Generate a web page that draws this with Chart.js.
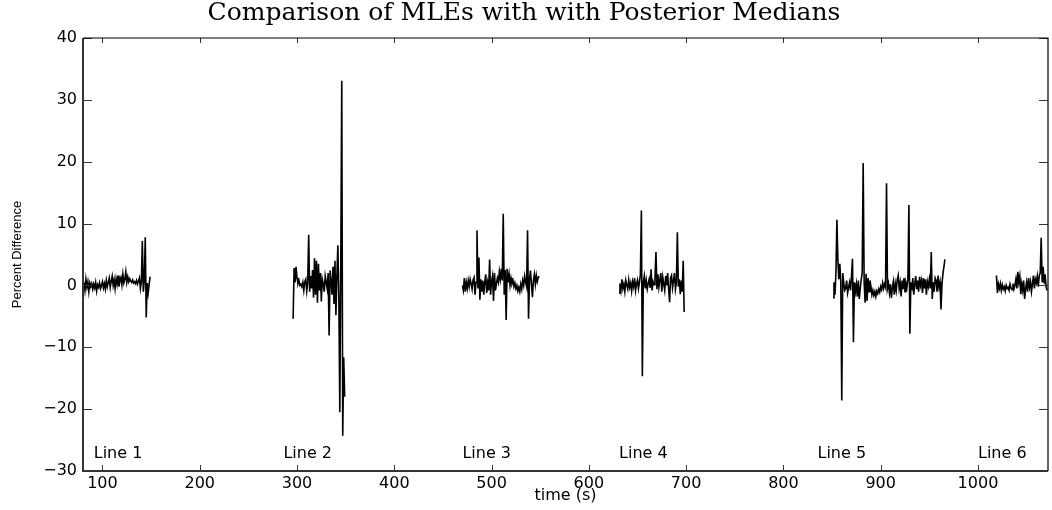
<!DOCTYPE html>
<html>
<head>
<meta charset="utf-8">
<script src="https://cdn.jsdelivr.net/npm/chart.js@4"></script>
<style>
	body { margin: 0; background: #fff; }
	#wrap { width: 1052px; height: 510px; }
</style>
</head>
<body>
<div id="wrap"><canvas id="myChart"></canvas></div>
<script>
// one sample per second, each run starts at its own time (s)
const lineNames = ['Line 1', 'Line 2', 'Line 3', 'Line 4', 'Line 5', 'Line 6'];
const lineStarts = [81, 296, 470, 631, 851, 1019];
const lineLabelTimes = [116, 311, 495, 656, 860, 1025];

const line1Values = [
	0.5, -0.8, 1.0, -0.3, 0.6, -1.0, 0.4, -0.2, 0.3, -0.6,
	0.2, -0.4, 0.5, -0.9, 0.1, -0.3, 0.4, -0.5, 0.0, 0.6,
	-0.4, 0.3, -0.6, 0.8, -0.2, 0.5, 1.2, -0.3, 0.7, 1.5,
	0.0, 0.9, -0.5, 1.1, 0.2, 1.6, -0.2, 0.8, 1.3, 0.1,
	1.8, 0.4, 1.0, 2.2, 0.5, 1.4, 0.6, 1.1, 0.7, 0.5,
	0.9, 0.4, 0.6, 0.3, 0.8, 0.2, 0.7, 1.2, -0.5, 0.6,
	7.2, -1.0, 0.8, 7.8, -5.2, 0.4, -1.2, 0.2, 1.4
];
const line2Values = [
	-5.4, 2.8, 0.5, 3.0, 1.2, 0.3, 0.8, 0.0, 0.2, -0.2,
	0.5, -0.8, 0.6, 1.0, -0.9, 0.4, 8.2, -1.0, 1.5, -0.5,
	2.5, -2.0, 4.4, -1.5, 4.0, -2.8, 3.5, -0.8, 2.0, -2.6,
	1.0, 0.2, -1.0, 1.5, 0.5, -0.5, 2.0, -8.1, 2.4, 0.8,
	-1.5, 3.0, -3.0, 4.0, -4.8, 1.5, 6.5, -2.0, -20.5, 3.5,
	33.1, -24.3, -11.6, -18.0
];
const line3Values = [
	0.0, -0.8, 1.2, -1.0, 0.5, -0.5, 0.8, -0.2, 1.0, 0.3,
	-0.6, 0.9, 1.3, -1.5, 0.5, 8.9, -0.5, 4.5, -2.3, 1.0,
	-1.0, 0.8, -1.5, 0.5, 1.8, -1.2, 0.4, -0.8, 4.2, -1.5,
	0.6, 1.5, -2.5, 2.0, -0.8, 0.3, 1.2, 0.5, 2.2, 1.0,
	2.7, 0.8, 11.6, -1.5, 2.5, -5.6, 2.7, 0.5, 1.8, 0.0,
	1.2, 0.3, 0.8, -0.2, 0.4, -0.5, 0.0, -0.9, -0.3, -1.0,
	0.2, -0.6, 0.8, 0.0, 1.5, 0.5, -0.2, 8.9, -5.4, 1.0,
	2.4, 0.2, -1.9, 0.8, 1.8, 0.2, 1.6, 0.6, 1.3, 1.5
];
const line4Values = [
	-1.2, 0.3, -0.8, 1.0, -0.5, 0.2, -1.0, 0.8, 0.0, -0.6,
	0.9, -0.3, 0.4, -0.9, 0.6, -0.2, 1.2, -0.8, 0.3, 0.9,
	-0.5, 0.5, 1.8, 12.1, -14.7, 0.5, 1.5, -0.5, 0.8, -0.6,
	0.3, 1.0, -0.4, 2.6, -0.8, 0.6, 0.1, 1.2, 5.4, -0.6,
	1.8, -0.3, 0.9, 2.0, -1.0, 1.3, 0.2, -0.8, 1.5, 0.0,
	2.0, -0.5, -2.7, 1.2, 1.6, -0.4, 0.8, 2.0, -0.6, 0.5,
	8.6, -0.2, 1.0, -1.4, 0.8, -1.0, 4.0, -4.3
];
const line5Values = [
	-2.0, 0.5, -1.5, 2.0, 10.6, 4.0, 1.0, 3.5, 0.5, -18.6,
	2.0, 0.5, -0.8, -0.5, 0.8, -1.2, -0.3, 0.5, -0.8, 1.5,
	4.3, -9.2, 0.5, -1.0, 0.2, -1.8, 0.8, -2.2, -0.5, 1.0,
	2.0, 19.8, 0.5, -2.8, 1.9, -2.5, 1.2, -1.0, 0.8, -0.2,
	-1.5, -0.8, -1.6, -1.0, -1.8, -0.9, -1.3, -0.6, -1.1, -0.2,
	-0.7, 0.4, -0.5, 0.2, -0.3, 16.5, -0.5, 0.3, -1.2, 0.2,
	-2.0, -0.4, 0.6, -1.5, 0.3, -0.8, 0.9, 1.6, -0.5, 0.5,
	-1.8, 0.8, -0.6, 1.2, -1.0, 0.4, -0.3, 1.0, 13.0, -7.8,
	0.5, -0.8, 1.2, -1.5, 0.2, 1.5, -0.6, 0.8, -1.0, 1.4,
	0.0, 0.8, -1.2, 1.2, -0.5, 1.0, -1.5, 0.6, -0.2, 1.0,
	-0.5, 5.4, -2.2, 0.5, -1.0, 1.2, 0.8, -1.0, 1.6, -0.3,
	0.5, -3.9, 0.2, 1.9, 3.0, 4.2
];
const line6Values = [
	1.6, -1.2, 0.2, -0.5, 0.3, -0.8, 0.1, -0.6, -0.2, -0.9,
	0.0, -0.5, -0.3, -0.8, 0.2, -0.4, -0.7, 0.3, -0.6, 0.0,
	1.0, -0.5, 2.2, 0.5, 1.5, -1.4, 0.3, -0.8, 0.8, -2.2,
	-0.5, 0.5, -1.0, 1.2, -0.3, 0.6, -1.0, 0.2, 1.6, -0.5,
	1.0, 0.4, 1.5, -0.2, 1.6, 2.0, 7.7, 0.5, 3.0, 0.3,
	1.8, -0.2, -0.8
];

const xTickValues = [100, 200, 300, 400, 500, 600, 700, 800, 900, 1000];
const yTickValues = [-30, -20, -10, 0, 10, 20, 30, 40];

const allValues = [line1Values, line2Values, line3Values, line4Values, line5Values, line6Values];

const datasets = allValues.map((vals, k) => ({
	label: lineNames[k],
	data: vals.map((v, i) => ({ x: lineStarts[k] + i, y: v })),
	borderColor: '#000',
	borderWidth: 1.6,
	pointRadius: 0,
	tension: 0,
}));

const sansFont = "'DejaVu Sans', sans-serif";

// box frame, inward ticks and the "Line n" labels
const framePlugin = {
	id: 'frame',
	afterDraw(chart) {
		const ctx = chart.ctx;
		const a = chart.chartArea;
		const xs = chart.scales.x;
		const ys = chart.scales.y;
		ctx.save();

		ctx.strokeStyle = '#333';
		ctx.lineWidth = 1;
		xTickValues.forEach(v => {
			const px = Math.round(xs.getPixelForValue(v)) + 0.5;
			ctx.beginPath();
			ctx.moveTo(px, a.bottom);
			ctx.lineTo(px, a.bottom - 6);
			ctx.moveTo(px, a.top);
			ctx.lineTo(px, a.top + 5);
			ctx.stroke();
		});
		yTickValues.forEach(v => {
			const py = Math.round(ys.getPixelForValue(v)) + 0.5;
			ctx.beginPath();
			ctx.moveTo(a.left, py);
			ctx.lineTo(a.left + 9, py);
			ctx.moveTo(a.right, py);
			ctx.lineTo(a.right - 9, py);
			ctx.stroke();
		});

		ctx.strokeStyle = '#000';
		ctx.lineWidth = 1.2;
		ctx.beginPath();
		ctx.moveTo(a.left, a.top);
		ctx.lineTo(a.right, a.top);
		ctx.lineTo(a.right, a.bottom);
		ctx.stroke();

		ctx.strokeStyle = '#333';
		ctx.lineWidth = 2;
		ctx.beginPath();
		ctx.moveTo(a.left, a.top);
		ctx.lineTo(a.left, a.bottom);
		ctx.lineTo(a.right, a.bottom);
		ctx.stroke();

		ctx.fillStyle = '#000';
		ctx.font = '16px ' + sansFont;
		ctx.textAlign = 'center';
		ctx.textBaseline = 'middle';
		lineNames.forEach((name, k) => {
			ctx.fillText(name, xs.getPixelForValue(lineLabelTimes[k]), ys.getPixelForValue(-27.2));
		});
		ctx.restore();
	},
};

new Chart('myChart', {
	type: 'line',
	data: { datasets: datasets },
	plugins: [framePlugin],
	options: {
		responsive: true,
		maintainAspectRatio: false,
		animation: false,
		layout: { padding: { top: 0, right: 4, bottom: 0, left: 0 } },
		plugins: {
			legend: { display: false },
			tooltip: { enabled: false },
			title: {
				display: true,
				text: 'Comparison of MLEs with with Posterior Medians',
				color: '#000',
				font: { family: "'DejaVu Serif', serif", size: 25, weight: 'normal', lineHeight: 0.8 },
				padding: { top: 3, bottom: 15 },
			},
		},
		scales: {
			x: {
				type: 'linear',
				min: 80,
				max: 1072,
				afterBuildTicks: s => { s.ticks = xTickValues.map(v => ({ value: v })); },
				afterFit: s => { s.height = 39; },
				grid: { display: false, drawTicks: false },
				border: { display: false },
				ticks: {
					color: '#000',
					padding: 3,
					maxRotation: 0,
					font: { family: sansFont, size: 16 },
					callback: v => String(v),
				},
				title: {
					display: true,
					text: 'time (s)',
					color: '#000',
					font: { family: sansFont, size: 16 },
					padding: { top: 0, bottom: 4.7 },
				},
			},
			y: {
				min: -30,
				max: 40,
				afterBuildTicks: s => { s.ticks = yTickValues.map(v => ({ value: v })); },
				afterFit: s => { s.width = 83; },
				grid: { display: false, drawTicks: false },
				border: { display: false },
				ticks: {
					color: '#000',
					padding: 6,
					font: { family: sansFont, size: 16 },
					callback: v => (v < 0 ? '\u2212' + Math.abs(v) : String(v)),
				},
				title: {
					display: true,
					text: 'Percent Difference',
					color: '#000',
					font: { family: "'Liberation Sans Narrow', 'Liberation Sans', sans-serif", size: 13 },
					padding: { top: 10, bottom: 0 },
				},
			},
		},
	},
});
</script>
</body>
</html>
